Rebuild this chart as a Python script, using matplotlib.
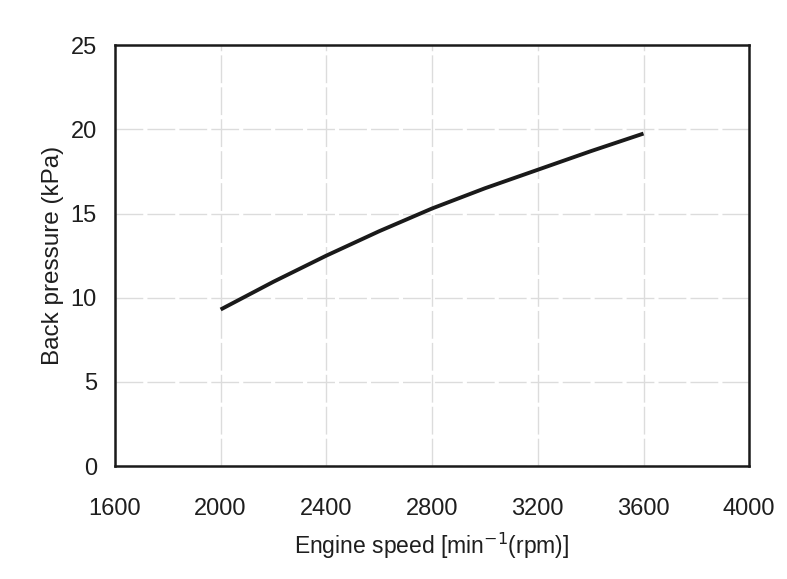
import matplotlib
matplotlib.use("Agg")
import matplotlib.pyplot as plt
import numpy as np

plt.rcParams['font.family'] = ['Liberation Sans', 'DejaVu Sans']

speed = [2000, 2200, 2400, 2600, 2800, 3000, 3200, 3400, 3600]
pressure = [9.3, 10.95, 12.5, 13.95, 15.3, 16.5, 17.6, 18.7, 19.75]
xticks = [1600, 2000, 2400, 2800, 3200, 3600, 4000]
yticks = [0, 5, 10, 15, 20, 25]

fig = plt.figure(figsize=(7.87, 5.79), dpi=100)
ax = fig.add_axes([0.146, 0.195, 0.806, 0.727])
ax.plot(speed, pressure, color='#1a1a1a', lw=2.8, solid_capstyle='butt')
ax.set_xlim(1600, 4000)
ax.set_ylim(0, 25)
ax.set_xticks(xticks)
ax.set_yticks(yticks)
ax.grid(True, color='#dcdcdc', lw=1.0, ls=(0, (20, 3)))
ax.tick_params(length=0, labelsize=17, colors='#1e1e1e')
ax.tick_params(axis='x', pad=23)
ax.tick_params(axis='y', pad=13)
for s in ax.spines.values():
    s.set_linewidth(1.8)
    s.set_color('#1a1a1a')
ax.set_xlabel('Engine speed [min$^{-1}$(rpm)]', fontsize=16.5, color='#1e1e1e', labelpad=8)
ax.set_ylabel('Back pressure (kPa)', fontsize=17.5, color='#1e1e1e', labelpad=5)

fig.savefig('out.png', dpi=100)
